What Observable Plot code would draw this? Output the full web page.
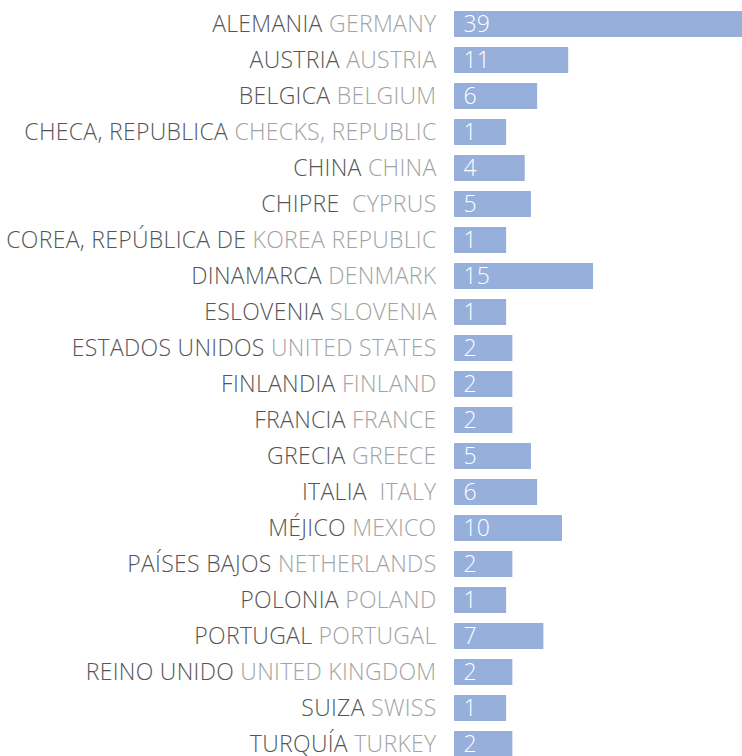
<!DOCTYPE html>
<html><head><meta charset="utf-8">
<script src="https://cdn.jsdelivr.net/npm/d3@7"></script>
<script src="https://cdn.jsdelivr.net/npm/@observablehq/plot@0.6"></script>
<style>body{margin:0;background:#fff;overflow:hidden;height:756px} svg text{white-space:pre}</style>
</head><body><div id="chart"></div>
<script>
const spanish = ["ALEMANIA","AUSTRIA","BELGICA","CHECA, REPUBLICA","CHINA","CHIPRE ","COREA, REPÚBLICA DE","DINAMARCA","ESLOVENIA","ESTADOS UNIDOS","FINLANDIA","FRANCIA","GRECIA","ITALIA ","MÉJICO","PAÍSES BAJOS","POLONIA","PORTUGAL","REINO UNIDO","SUIZA","TURQUÍA"];
const english = ["GERMANY","AUSTRIA","BELGIUM","CHECKS, REPUBLIC","CHINA","CYPRUS","KOREA REPUBLIC","DENMARK","SLOVENIA","UNITED STATES","FINLAND","FRANCE","GREECE","ITALY","MEXICO","NETHERLANDS","POLAND","PORTUGAL","UNITED KINGDOM","SWISS","TURKEY"];
const values = [39,11,6,1,4,5,1,15,1,2,2,2,5,6,10,2,1,7,2,1,2];
const BASE = -7.4; // bar baseline on the value axis

const data = spanish.map((s, i) => ({key: i, es: s, en: english[i], value: values[i]}));
const DARK = "#555555", LIGHT = "#a3a3a3";

const chart = Plot.plot({
  width: 742, height: 757,
  marginLeft: 454, marginRight: 0, marginTop: 11, marginBottom: 0,
  style: {fontFamily: "'Open Sans', sans-serif", background: "#fff", overflow: "visible"},
  x: {domain: [BASE, 39], axis: null},
  y: {domain: data.map(d => d.key), paddingInner: 0.28, paddingOuter: 0, axis: null},
  marks: [
    Plot.barX(data, {x1: BASE, x2: "value", y: "key", fill: "#97b0db"}),
    Plot.text(data, {x: BASE, y: "key", text: d => String(d.value), dx: 9, textAnchor: "start", fill: "#fff", fontSize: 23, fontWeight: 350}),
    Plot.text(data, {x: BASE, y: "key", text: d => d.es + " " + d.en, dx: -18, textAnchor: "end", fill: DARK, fontSize: 23, fontWeight: 350})
  ]
});
const groups = chart.querySelectorAll('g[aria-label="text"]');
groups[groups.length - 1].querySelectorAll('text').forEach((t, i) => {
  const d = data[i];
  t.textContent = "";
  t.setAttribute("letter-spacing", "0.3");
  const a = document.createElementNS("http://www.w3.org/2000/svg", "tspan");
  a.setAttribute("fill", DARK); a.textContent = d.es + " ";
  const b = document.createElementNS("http://www.w3.org/2000/svg", "tspan");
  b.setAttribute("fill", LIGHT); b.textContent = d.en;
  t.appendChild(a); t.appendChild(b);
});
document.getElementById("chart").appendChild(chart);
</script>
</body></html>
